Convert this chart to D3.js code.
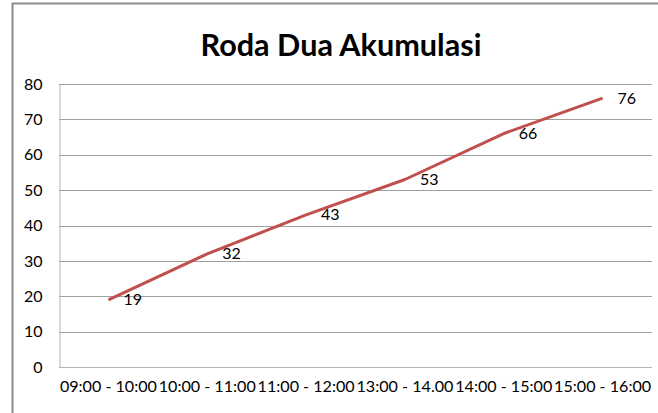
<!DOCTYPE html>
<html><head><meta charset="utf-8">
<script src="https://cdnjs.cloudflare.com/ajax/libs/d3/7.8.5/d3.min.js"></script>
<style>
html,body{margin:0;padding:0;background:#fff;}
svg{display:block;}
text{font-family:Lato,"Open Sans",sans-serif;fill:#000;}
</style></head>
<body>
<svg id="c" width="658" height="413"></svg>
<script>
const title = "Roda Dua Akumulasi";
const categories = ["09:00 - 10:00","10:00 - 11:00","11:00 - 12:00","13:00 - 14.00","14:00 - 15:00","15:00 - 16:00"];
const values = [19, 32, 43, 53, 66, 76];
const yTicks = [0,10,20,30,40,50,60,70,80];

const svg = d3.select("#c");
const W = 658, H = 413;
const m = {left:59, right:6, top:84, bottom:46};
const iw = W - m.left - m.right, ih = H - m.top - m.bottom;

// outer chart border
svg.append("path").attr("d", `M12.5,${H+5} L12.5,3.5 L${W+5},3.5`)
  .attr("fill","none").attr("stroke","#8c8c8c").attr("stroke-width",2);

svg.append("text").attr("x", 341).attr("y", 56).attr("text-anchor","middle")
  .attr("font-size",31).attr("font-weight","bold")
  .attr("textLength",281).attr("lengthAdjust","spacingAndGlyphs")
  .text(title);

const x = d3.scaleBand().domain(categories).range([m.left, m.left+iw]);
const y = d3.scaleLinear().domain([0,80]).range([m.top+ih, m.top]);

const g = svg.append("g");
// gridlines
g.selectAll("line.grid").data(yTicks).join("line")
  .attr("x1", m.left).attr("x2", m.left+iw)
  .attr("y1", d=>Math.round(y(d))+0.5).attr("y2", d=>Math.round(y(d))+0.5)
  .attr("stroke", d=> d===0 ? "#b3b3b3" : "#a0a0a0").attr("stroke-width",1);

// y axis
const ya = svg.append("g").attr("transform",`translate(${m.left+0.5},0)`)
  .call(d3.axisLeft(y).tickValues(yTicks).tickSize(0).tickPadding(17));
ya.select(".domain").attr("stroke","#b3b3b3");
ya.selectAll("text").attr("font-size",16).attr("fill","#000").style("font-family","Lato, sans-serif");

// x axis
const xa = svg.append("g").attr("transform",`translate(0,${m.top+ih})`)
  .call(d3.axisBottom(x).tickSize(0).tickPadding(14));
xa.select(".domain").remove();
xa.selectAll("text").attr("font-size",16).attr("fill","#000").style("font-family","Lato, sans-serif")
  .attr("textLength",97).attr("lengthAdjust","spacingAndGlyphs");

const cx = d => x(d) + x.bandwidth()/2;
const line = d3.line().x((d,i)=>cx(categories[i])).y(d=>y(d));
svg.append("path").datum(values).attr("d", line)
  .attr("fill","none").attr("stroke","#c0504d").attr("stroke-width",3).attr("stroke-linejoin","round");

svg.selectAll("text.lbl").data(values).join("text").attr("class","lbl")
  .attr("x",(d,i)=>cx(categories[i])+15).attr("y",d=>y(d)).attr("dy","0.35em")
  .attr("font-size",16).text(d=>d);
</script>
</body></html>
